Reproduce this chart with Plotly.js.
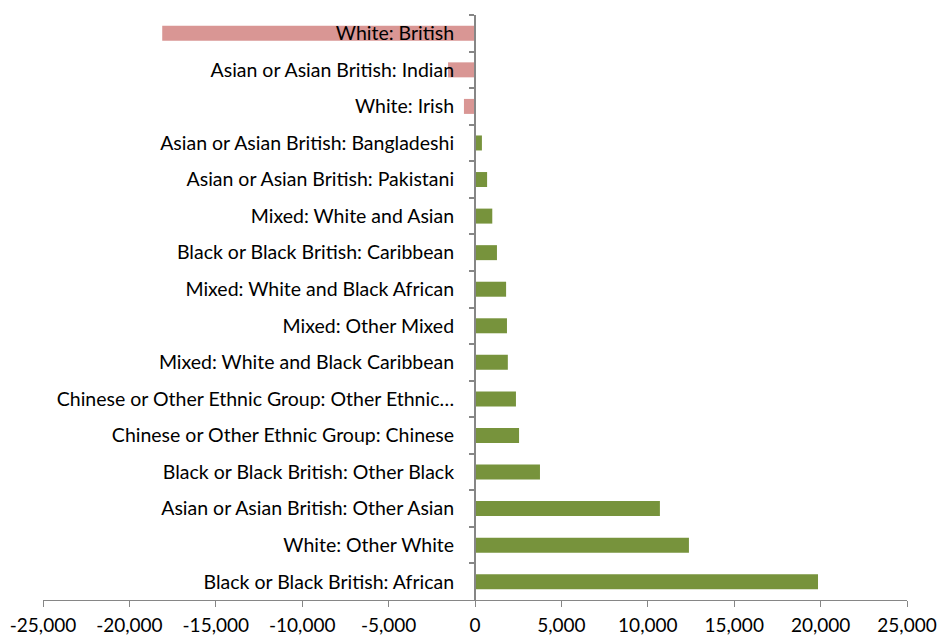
<!DOCTYPE html>
<html>
<head>
<meta charset="utf-8">
<script src="https://cdn.plot.ly/plotly-3.0.1.min.js"></script>
<style>html,body{margin:0;padding:0;background:#fff;}#chart{width:937px;height:639px;}</style>
</head>
<body>
<div id="chart"></div>
<script>
const categories = [
  "White: British",
  "Asian or Asian British: Indian",
  "White: Irish",
  "Asian or Asian British: Bangladeshi",
  "Asian or Asian British: Pakistani",
  "Mixed: White and Asian",
  "Black or Black British: Caribbean",
  "Mixed: White and Black African",
  "Mixed: Other Mixed",
  "Mixed: White and Black Caribbean",
  "Chinese or Other Ethnic Group: Other Ethnic\u2026",
  "Chinese or Other Ethnic Group: Chinese",
  "Black or Black British: Other Black",
  "Asian or Asian British: Other Asian",
  "White: Other White",
  "Black or Black British: African"
];
const changes = [-18100, -1560, -640, 400, 700, 1000, 1270, 1800, 1850, 1900, 2370, 2550, 3760, 10700, 12380, 19850];
const xTickValues = [-25000, -20000, -15000, -10000, -5000, 0, 5000, 10000, 15000, 20000, 25000];
const xTickLabels = ["-25,000", "-20,000", "-15,000", "-10,000", "-5,000", "0", "5,000", "10,000", "15,000", "20,000", "25,000"];

const negColor = "#D99694";
const posColor = "#77933C";

const trace = {
  type: "bar",
  orientation: "h",
  x: changes,
  y: categories,
  marker: {color: changes.map(v => v < 0 ? negColor : posColor), line: {width: 0}},
  hoverinfo: "x+y"
};

const layout = {
  width: 937, height: 639,
  margin: {l: 43, r: 30, t: 15, b: 39},
  paper_bgcolor: "#fff", plot_bgcolor: "#fff",
  showlegend: false,
  bargap: 0.59,
  font: {family: "Lato, Noto Sans, sans-serif", size: 19.5, color: "#000"},
  xaxis: {
    range: [-25000, 25000],
    tickvals: xTickValues, ticktext: xTickLabels,
    showgrid: false, zeroline: false,
    showline: true, linecolor: "#868686", linewidth: 1,
    ticks: "outside", ticklen: 6, tickcolor: "#868686",
    ticklabelstandoff: 2,
    tickfont: {size: 19},
    fixedrange: true
  },
  yaxis: {
    type: "category",
    categoryorder: "array", categoryarray: categories,
    autorange: "reversed",
    anchor: "free", position: 0.5,
    showgrid: false, zeroline: false,
    showline: true, linecolor: "#868686", linewidth: 2,
    ticks: "outside", ticklen: 5, tickcolor: "#868686", tickwidth: 2,
    tickson: "boundaries",
    ticklabelstandoff: 16,
    tickfont: {size: 19.5},
    layer: "above traces",
    fixedrange: true
  }
};

Plotly.newPlot("chart", [trace], layout, {displayModeBar: false, staticPlot: true});
</script>
</body>
</html>
